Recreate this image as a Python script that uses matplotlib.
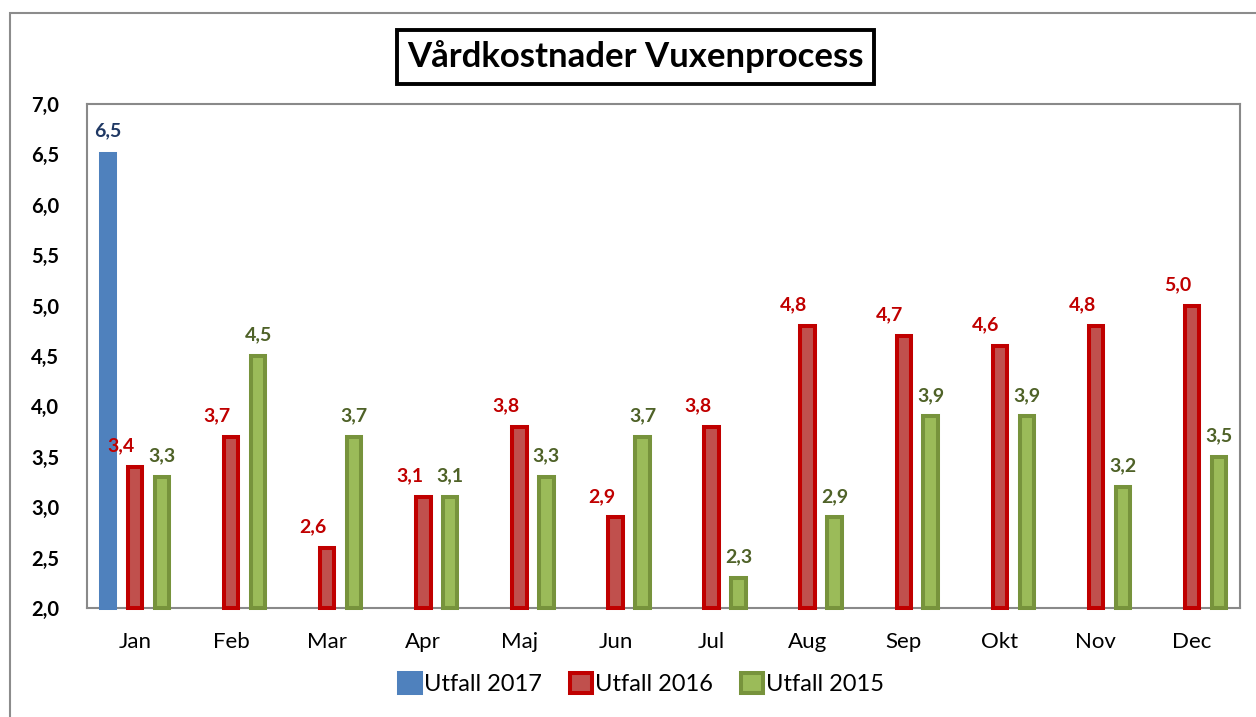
import matplotlib.pyplot as plt
from matplotlib.patches import Rectangle
import numpy as np

months = ['Jan', 'Feb', 'Mar', 'Apr', 'Maj', 'Jun', 'Jul', 'Aug', 'Sep', 'Okt', 'Nov', 'Dec']
utfall_2017 = [6.5]
utfall_2016 = [3.4, 3.7, 2.6, 3.1, 3.8, 2.9, 3.8, 4.8, 4.7, 4.6, 4.8, 5.0]
utfall_2015 = [3.3, 4.5, 3.7, 3.1, 3.3, 3.7, 2.3, 2.9, 3.9, 3.9, 3.2, 3.5]
yticks = [2.0, 2.5, 3.0, 3.5, 4.0, 4.5, 5.0, 5.5, 6.0, 6.5, 7.0]

plt.rcParams['font.family'] = ['Lato', 'DejaVu Sans']

fig = plt.figure(figsize=(12.56, 7.17), dpi=100)
ax = fig.add_axes([0.0693, 0.152, 0.918, 0.703])

# outer chart border (cut off at right and bottom)
fig.patches.append(Rectangle((10 / 1256, -0.05), 1.1, 1 - 13 / 717 + 0.05,
                             transform=fig.transFigure, fill=False,
                             edgecolor='#8c8c8c', linewidth=1.5))

x = np.arange(len(months))
off = 0.28
w = 0.15
base = 2.0

def fmt(v):
    return f'{v:.1f}'.replace('.', ',')

b17 = ax.bar(x[:len(utfall_2017)] - off, np.array(utfall_2017) - base, w, bottom=base,
             color='#4f81bd', edgecolor='#4f81bd', linewidth=2.9, clip_on=False,
             label='Utfall 2017', zorder=3)
b16 = ax.bar(x, np.array(utfall_2016) - base, w, bottom=base,
             color='#c0504d', edgecolor='#c00000', linewidth=2.9, clip_on=False,
             label='Utfall 2016', zorder=3)
b15 = ax.bar(x + off, np.array(utfall_2015) - base, w, bottom=base,
             color='#9bbb59', edgecolor='#77933c', linewidth=2.9, clip_on=False,
             label='Utfall 2015', zorder=3)

for i, v in enumerate(utfall_2017):
    ax.annotate(fmt(v), (x[i] - off, v), xytext=(0, 11), textcoords='offset points',
                ha='center', va='bottom', fontsize=14, fontweight='bold', color='#1f3864')
for i, v in enumerate(utfall_2016):
    ax.annotate(fmt(v), (x[i], v), xytext=(-10, 9), textcoords='offset points',
                ha='center', va='bottom', fontsize=14, fontweight='bold', color='#c00000')
for i, v in enumerate(utfall_2015):
    ax.annotate(fmt(v), (x[i] + off, v), xytext=(0, 9), textcoords='offset points',
                ha='center', va='bottom', fontsize=14, fontweight='bold', color='#4f6228')

ax.set_xlim(-0.5, len(months) - 0.5)
ax.set_ylim(2.0, 7.0)
ax.set_yticks(yticks)
ax.set_yticklabels([fmt(t) for t in yticks], fontsize=14.5, fontweight='bold')
ax.set_xticks(x)
ax.set_xticklabels(months, fontsize=16)
ax.tick_params(axis='both', length=0)
ax.tick_params(axis='y', pad=20)
ax.tick_params(axis='x', pad=17)
for s in ax.spines.values():
    s.set_color('#898989')
    s.set_linewidth(1.5)

fig.text(0.506, 0.921, 'Vårdkostnader Vuxenprocess',
         ha='center', va='center', fontsize=25, fontweight='bold',
         bbox=dict(boxstyle='square,pad=0.3', facecolor='white', edgecolor='black', linewidth=2.8))

leg = fig.legend(handles=[b17, b16, b15], loc='center', bbox_to_anchor=(0.511, 0.046),
                 ncol=3, frameon=False, fontsize=17, handlelength=0.9, handleheight=0.9,
                 handletextpad=0.15, columnspacing=1.2)

fig.savefig('out.png', dpi=100)
